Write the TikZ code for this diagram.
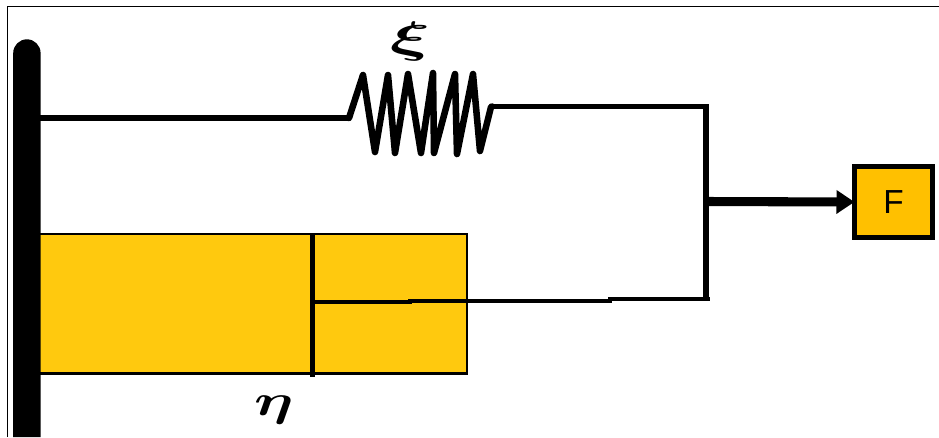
\documentclass[tikz,border=0pt]{standalone}
\usepackage{fontspec}
\usetikzlibrary{arrows.meta}
\newfontfamily\forcefont{Liberation Sans}
\font\boldgreek=cmmib10 at 33pt
\definecolor{dashpot}{HTML}{FFC90E}
\definecolor{forcebox}{HTML}{FFC000}
\tikzset{
  x=0.75pt,y=-0.75pt,
  wire/.style={line width=4pt,line cap=butt,line join=miter},
  thinwire/.style={line width=3pt,line cap=butt},
  coil/.style={line width=4.9pt,line join=round,line cap=round},
  potbox/.style={draw=black,line width=1.9pt,fill=dashpot,inner sep=0pt,outer sep=0pt,minimum width=321pt,minimum height=104.5pt},
  forcenode/.style={draw=black,line width=3.8pt,fill=forcebox,inner sep=0pt,outer sep=0pt,minimum width=58.5pt,minimum height=53.3pt,font=\forcefont\fontsize{25}{25}\selectfont},
  symbol/.style={inner sep=0pt,outer sep=0pt,text=black},
}
\begin{document}
\begin{tikzpicture}
\useasboundingbox (0,0) rectangle (939,437);
\fill[white] (0,0) rectangle (939,437);
\coordinate (fTL) at (7.5,6.5);
\coordinate (fTR) at (939,6.5);
\coordinate (fBL) at (7.5,437);
\draw[line width=1.3pt] (fBL) -- (fTL) -- (fTR);
% dashpot
\node[potbox,anchor=north west] (pot) at (39,234) {};
% wall
\fill[black] (13.2,437) -- (13.2,53) arc[start angle=180,end angle=360,radius=13.7] -- (40.6,437) -- cycle;
\coordinate (wallA) at (40,118);
\coordinate (sL) at (349,118);
\coordinate (sR) at (492,106.5);
\coordinate (jTop) at (706,106.5);
\coordinate (jBot) at (706,299);
\coordinate (jMid) at (706,201.5);
\coordinate (pistT) at (312.7,233);
\coordinate (pistB) at (312.7,377);
\coordinate (rod0) at (312.7,302);
\coordinate (rod1) at (410,302);
\coordinate (rod2) at (410,301);
\coordinate (rod3) at (610,301);
\coordinate (rod4) at (610,299);
\coordinate (rod5) at (710,299);
% spring
\draw[wire] (wallA) -- (sL);
\draw[coil] (sL) -- (363,75) -- (375,152) -- (388,75) -- (395,153) -- (408,74) -- (421,153)
  -- (433,73) -- (434,153) -- (455,74) -- (457,154) -- (473,74) -- (480,151) -- (491,107) -- (sR);
\draw[wire] (sR) -- (jTop);
\draw[wire,line width=4.2pt] (706,104.4) -- (706,301);
% piston
\draw[line width=4pt] (pistT) -- (pistB);
\draw[thinwire] (rod0) -- (rod1) -- (rod2) -- (rod3) -- (rod4) -- (rod5);
% force
\node[forcenode] (force) at (893.5,202) {F};
\draw[line width=6.8pt,-{Triangle[length=13.5pt,width=17pt]}] (jMid) -- (force.west);
% labels
\node[symbol,xscale=1.7] (xi) at (409,41) {\boldgreek\char24};
\node[symbol,xscale=1.4] (eta) at (272.5,410) {\boldgreek\char17};
\end{tikzpicture}
\end{document}
